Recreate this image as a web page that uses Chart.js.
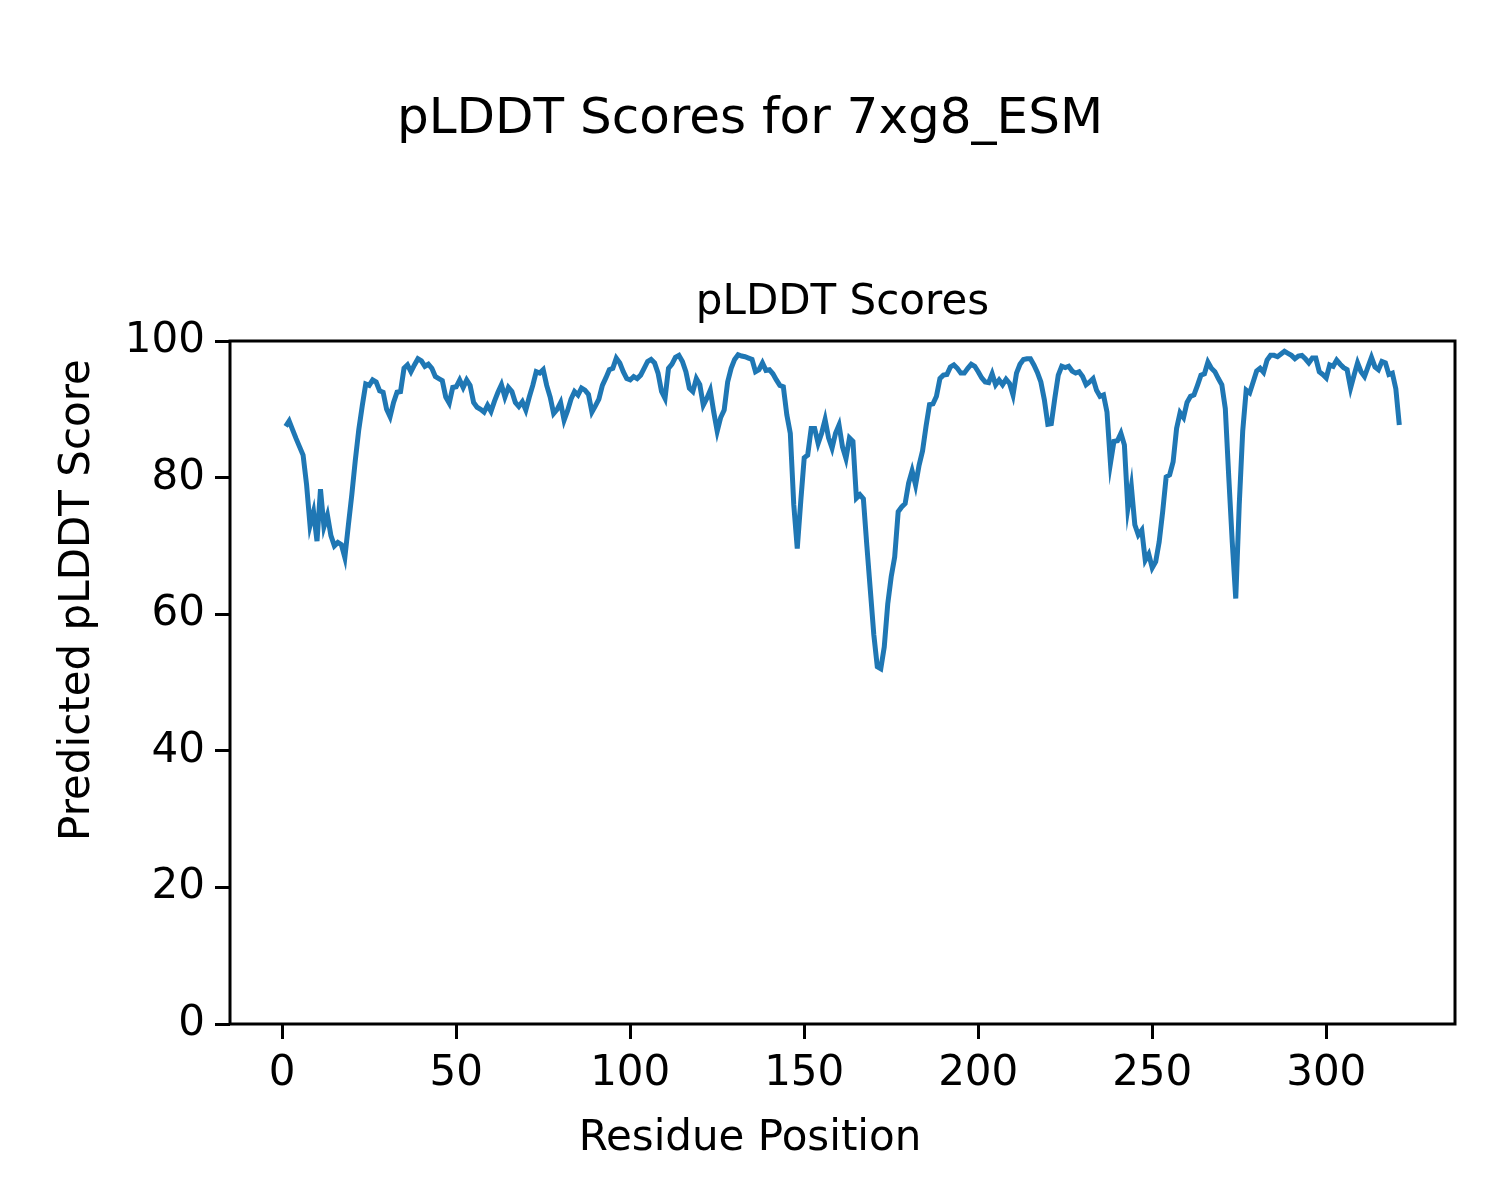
<!DOCTYPE html>
<html>
<head>
<meta charset="utf-8">
<script src="https://cdn.jsdelivr.net/npm/chart.js@4"></script>
<style>
  html, body { margin: 0; padding: 0; background: #fff; }
  canvas { display: block; }
</style>
</head>
<body>
<canvas id="plddtChart" width="1500" height="1200"></canvas>
<script>
// pLDDT per residue (residues 1..321)
const firstResidue = 1;
const plddt = [
    87.5, 88.3, 87, 85.7, 84.5, 83.3, 79, 73, 75, 70.7,
    78.3, 72.8, 74.5, 71.5, 70, 70.5, 70.2, 68.3, 73, 77.5,
    82.5, 87, 90.5, 93.7, 93.5, 94.3, 94.0, 92.7, 92.5, 90.0,
    88.9, 91, 92.5, 92.6, 96, 96.5, 95.5, 96.5, 97.4, 97.1,
    96.3, 96.6, 96, 94.8, 94.5, 94.2, 91.8, 90.9, 93.2, 93.3,
    94.3, 93.2, 94.3, 93.5, 91, 90.3, 90, 89.6, 90.6, 89.7,
    91.2, 92.5, 93.6, 91.8, 93.2, 92.6, 91, 90.4, 91.1, 89.9,
    91.8, 93.5, 95.5, 95.3, 95.8, 93.5, 91.8, 89.4, 90, 91,
    88.4, 89.8, 91.5, 92.6, 92.1, 93.1, 92.8, 92.2, 89.6, 90.5,
    91.5, 93.5, 94.6, 95.8, 96, 97.5, 96.8, 95.5, 94.5, 94.3,
    94.8, 94.5, 95, 96, 97, 97.3, 96.8, 95.3, 92.6, 91.6,
    96, 96.6, 97.6, 97.9, 97, 95.5, 93.1, 92.6, 94.5, 93.6,
    90.6, 91.6, 92.8, 89.6, 86.8, 88.8, 89.9, 94, 96, 97.3,
    98, 97.8, 97.7, 97.5, 97.3, 95.5, 95.8, 96.8, 95.7, 95.8,
    95.2, 94.3, 93.5, 93.3, 89.2, 86.5, 76, 69.6, 76.5, 82.9,
    83.3, 87.2, 87.2, 85, 86.5, 88.5, 85.8, 84.3, 86.5, 87.7,
    84.5, 82.8, 85.8, 85.3, 77, 77.5, 76.9, 70, 63.5, 57,
    52.3, 52, 55.2, 61.5, 65.5, 68.4, 75, 75.7, 76.2, 79.2,
    81, 78.9, 81.8, 83.9, 87.5, 90.7, 90.8, 91.9, 94.5, 95,
    95.1, 96.2, 96.5, 96, 95.3, 95.3, 96, 96.6, 96.3, 95.5,
    94.6, 94, 93.9, 95.2, 93.6, 94.3, 93.6, 94.4, 93.8, 92.1,
    95.3, 96.6, 97.3, 97.4, 97.4, 96.5, 95.4, 94, 91.4, 87.8,
    87.9, 91.6, 95, 96.3, 96.1, 96.3, 95.6, 95.3, 95.5, 94.8,
    93.6, 94, 94.5, 92.8, 91.9, 92.1, 89.6, 82.1, 85.3, 85.4,
    86.5, 84.8, 75.5, 78.7, 73.1, 71.6, 72.3, 67.9, 68.8, 66.8,
    67.7, 70.6, 75, 80.1, 80.4, 82.3, 87.2, 89.5, 88.8, 91,
    91.9, 92.1, 93.5, 95, 95.2, 96.9, 96, 95.5, 94.5, 93.6,
    90.1, 80, 70.5, 62.3, 76, 86.8, 92.8, 92.4, 94, 95.6,
    96, 95.4, 97.2, 97.9, 97.9, 97.7, 98.1, 98.5, 98.2, 97.9,
    97.4, 97.8, 97.9, 97.4, 96.8, 97.5, 97.5, 95.5, 95.1, 94.6,
    96.5, 96.3, 97.2, 96.6, 96.1, 95.8, 93.1, 95, 96.8, 95.5,
    94.8, 96.2, 97.6, 96.2, 95.8, 97, 96.8, 95.1, 95.3, 93,
    87.7
];
const xTicks = [0, 50, 100, 150, 200, 250, 300];
const yTicks = [0, 20, 40, 60, 80, 100];

const FONT = "'DejaVu Sans', sans-serif";

// figure-level texts + full axes frame (matplotlib look)
const figureDecor = {
    id: 'figureDecor',
    afterDraw(chart) {
        const { ctx, chartArea: a } = chart;
        ctx.save();
        ctx.strokeStyle = '#000';
        ctx.lineWidth = 3;
        ctx.strokeRect(a.left, a.top, a.right - a.left, a.bottom - a.top);

        ctx.fillStyle = '#000';
        ctx.textAlign = 'center';
        ctx.textBaseline = 'middle';
        ctx.font = `50px ${FONT}`;
        ctx.fillText('pLDDT Scores for 7xg8_ESM', 750, 120);
        ctx.font = `42px ${FONT}`;
        ctx.fillText('pLDDT Scores', (a.left + a.right) / 2, 303);
        ctx.fillText('Residue Position', 750, 1139);
        ctx.translate(78, 600);
        ctx.rotate(-Math.PI / 2);
        ctx.fillText('Predicted pLDDT Score', 0, 0);
        ctx.restore();
    }
};

const ctx = document.getElementById('plddtChart');
new Chart(ctx, {
    type: 'line',
    data: {
        datasets: [{
            data: plddt.map((v, i) => ({ x: firstResidue + i, y: v })),
            borderColor: '#1f77b4',
            borderWidth: 5,
            pointRadius: 0,
            tension: 0,
            fill: false
        }]
    },
    options: {
        responsive: false,
        devicePixelRatio: 1,
        animation: false,
        layout: { padding: { left: 0, top: 341, right: 45, bottom: 0 } },
        plugins: { legend: { display: false }, tooltip: { enabled: false }, title: { display: false } },
        scales: {
            x: {
                type: 'linear',
                min: -15,
                max: 337,
                afterBuildTicks: s => { s.ticks = xTicks.map(v => ({ value: v })); },
                afterFit: s => { s.height = 176; },
                border: { display: false },
                grid: { drawOnChartArea: false, drawTicks: true, tickLength: 15, color: '#000', lineWidth: 3 },
                ticks: { color: '#000', font: { family: FONT, size: 42 }, padding: 10, maxRotation: 0 }
            },
            y: {
                min: 0,
                max: 100,
                afterBuildTicks: s => { s.ticks = yTicks.map(v => ({ value: v })); },
                afterFit: s => { s.width = 230; },
                border: { display: false },
                grid: { drawOnChartArea: false, drawTicks: true, tickLength: 15, color: '#000', lineWidth: 3 },
                ticks: { color: '#000', font: { family: FONT, size: 42 }, padding: 10 }
            }
        }
    },
    plugins: [figureDecor]
});
</script>
</body>
</html>
